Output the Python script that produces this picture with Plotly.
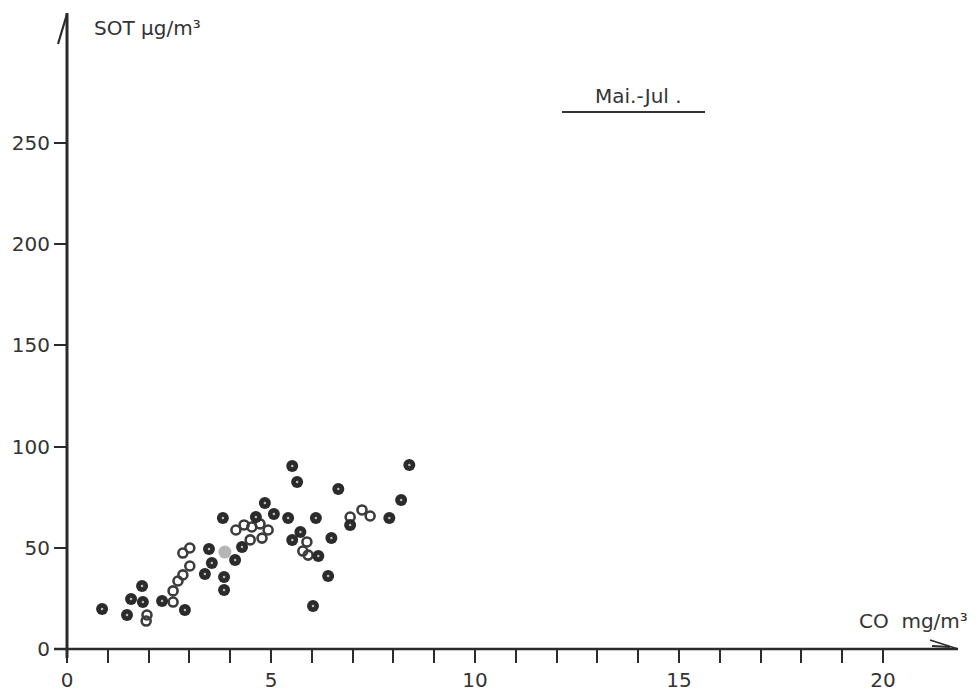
import plotly.graph_objects as go

# CO (mg/m3) vs SOT (ug/m3), May-July
co_filled = [0.86, 1.47, 1.57, 1.86, 1.84, 2.33, 2.89, 3.38, 3.55, 3.48, 3.85, 3.85,
             3.82, 4.12, 4.29, 4.63, 4.85, 5.07, 5.42, 5.52, 5.64, 5.72, 5.52, 6.16,
             6.48, 6.40, 6.03, 6.65, 6.94, 7.90, 8.19, 8.39, 6.10]
sot_filled = [19.8, 16.8, 24.7, 23.2, 31.1, 23.7, 19.3, 37.1, 42.5, 49.4, 29.2, 35.6,
              64.7, 44.0, 50.4, 65.2, 72.1, 66.7, 64.7, 90.4, 82.5, 57.8, 53.9, 45.9,
              54.8, 36.1, 21.2, 79.1, 61.3, 64.7, 73.6, 90.9, 64.7]

co_open = [1.96, 1.94, 2.60, 2.60, 2.72, 2.84, 3.01, 2.84, 3.01, 4.14, 4.34, 4.53,
           4.73, 4.93, 4.49, 4.78, 5.78, 5.91, 5.88, 6.94, 7.23, 7.43]
sot_open = [16.8, 13.8, 23.2, 28.7, 33.6, 36.6, 41.0, 47.4, 49.9, 58.8, 61.3, 60.3,
            61.8, 58.8, 53.9, 54.8, 48.4, 46.4, 52.9, 65.2, 68.7, 65.7]

co_faint = [3.87]
sot_faint = [47.9]

x_ticks = [0, 5, 10, 15, 20]
x_minor = [v for v in range(1, 20) if v % 5 != 0]
y_ticks = [0, 50, 100, 150, 200, 250]

W, H = 980, 694
ML, MB = 67, 45
X_MAX = (W - ML) / 40.8
Y_MAX = (H - MB) / 2.024

INK = "#2b2b2b"
FONT = "DejaVu Sans"

fig = go.Figure()
fig.add_trace(go.Scatter(x=co_faint, y=sot_faint, mode="markers",
                         marker=dict(symbol="circle", size=13, color="rgba(120,120,120,0.55)"),
                         hoverinfo="skip", showlegend=False))
fig.add_trace(go.Scatter(x=co_open, y=sot_open, mode="markers",
                         marker=dict(symbol="circle-open", size=9, color="#3c3c3c",
                                     line=dict(width=2.6, color="#3c3c3c")),
                         showlegend=False))
fig.add_trace(go.Scatter(x=co_filled, y=sot_filled, mode="markers",
                         marker=dict(symbol="circle", size=12, color=INK,
                                     line=dict(width=0)),
                         showlegend=False))
fig.add_trace(go.Scatter(x=co_filled, y=sot_filled, mode="markers",
                         marker=dict(symbol="circle", size=2.5, color="#bdbdbd"),
                         hoverinfo="skip", showlegend=False))


def ppx(p):
    # pixel column -> paper x
    return (p - ML) / (W - ML)


def ppy(p):
    # pixel row -> paper y
    return (H - MB - p) / (H - MB)


shapes = [
    # x axis
    dict(type="line", xref="paper", yref="paper", x0=ppx(54), x1=ppx(958),
         y0=0, y1=0, line=dict(color=INK, width=2.6)),
    dict(type="line", xref="paper", yref="paper", x0=ppx(930), x1=ppx(958),
         y0=ppy(640), y1=ppy(649), line=dict(color=INK, width=1.8)),
    dict(type="line", xref="paper", yref="paper", x0=ppx(932), x1=ppx(950),
         y0=ppy(646), y1=ppy(647), line=dict(color=INK, width=1.8)),
    # y axis
    dict(type="line", xref="paper", yref="paper", x0=0, x1=0,
         y0=ppy(658), y1=ppy(13), line=dict(color=INK, width=3)),
    dict(type="line", xref="paper", yref="paper", x0=ppx(58), x1=ppx(67),
         y0=ppy(44), y1=ppy(14), line=dict(color=INK, width=2.2)),
    # underline of period label
    dict(type="line", xref="paper", yref="paper", x0=ppx(562), x1=ppx(705),
         y0=ppy(112), y1=ppy(112), line=dict(color="#333333", width=1.8)),
]

annotations = [
    dict(text="SOT µg/m³", xref="paper", yref="paper", x=ppx(92), y=ppy(28),
         xanchor="left", yanchor="middle", showarrow=False,
         font=dict(family=FONT, size=20, color="#333333")),
    dict(text="CO  mg/m³", xref="paper", yref="paper", x=ppx(970), y=ppy(621),
         xanchor="right", yanchor="middle", showarrow=False,
         font=dict(family=FONT, size=20, color="#333333")),
    dict(text="Mai.-Jul .", xref="paper", yref="paper", x=ppx(638), y=ppy(96),
         xanchor="center", yanchor="middle", showarrow=False,
         font=dict(family=FONT, size=20, color="#333333")),
]

fig.update_layout(
    width=W, height=H,
    margin=dict(l=ML, r=0, t=0, b=MB, pad=0),
    paper_bgcolor="white", plot_bgcolor="white",
    font=dict(family=FONT, color="#333333"),
    shapes=shapes, annotations=annotations,
    xaxis=dict(range=[0, X_MAX], tickmode="array", tickvals=x_ticks,
               ticktext=[str(v) for v in x_ticks],
               ticks="outside", ticklen=13, tickwidth=2, tickcolor=INK,
               minor=dict(tickmode="array", tickvals=x_minor, ticks="outside", ticklen=13,
                          tickwidth=2, tickcolor=INK, showgrid=False),
               showgrid=False, zeroline=False, showline=False,
               tickfont=dict(family=FONT, size=20, color="#333333")),
    yaxis=dict(range=[0, Y_MAX], tickmode="array", tickvals=y_ticks,
               ticktext=[str(v) for v in y_ticks],
               ticks="outside", ticklen=12, tickwidth=2, tickcolor=INK,
               showgrid=False, zeroline=False, showline=False,
               tickfont=dict(family=FONT, size=20, color="#333333")),
)

fig.write_html("out.html")
